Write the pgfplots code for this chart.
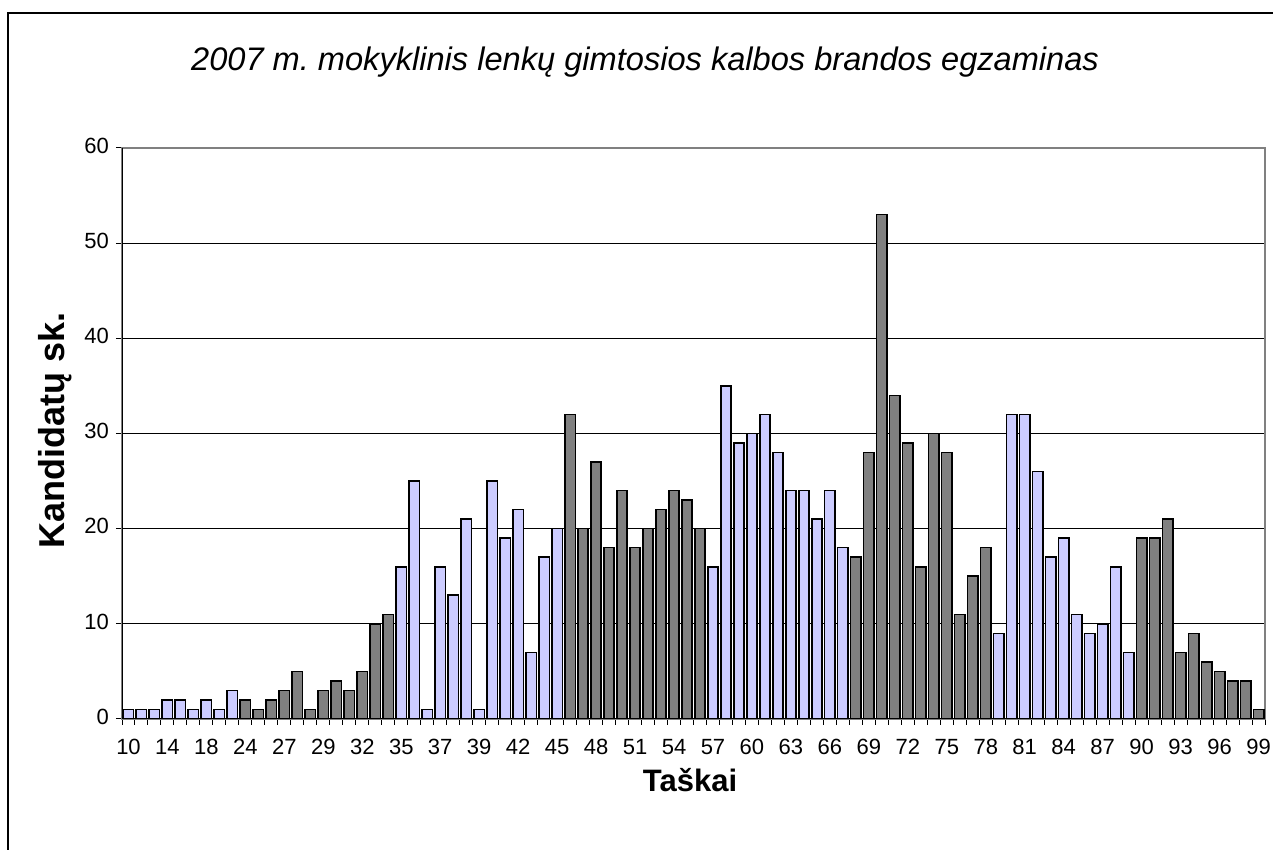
\documentclass[border=0pt]{standalone}
\usepackage{fontspec}
\setmainfont{Liberation Sans}
\usepackage{pgfplots}
\pgfplotsset{compat=1.18}
\definecolor{lav}{HTML}{CCCCFF}
\definecolor{drk}{HTML}{808080}
\frenchspacing
\begin{document}
\begin{tikzpicture}
\begin{axis}[
  at={(0,0)}, anchor=south west,
  width=571.5pt, height=285.5pt, scale only axis,
  xmin=-0.5, xmax=87.5, ymin=0, ymax=60,
  ybar, bar width=0.8, bar shift=0pt,
  axis line style={gray, line width=0.6pt},
  ymajorgrids, grid style={black, line width=0.5pt},
  ytick={0,10,...,60},
  xtick={-0.5,0.5,...,87.5}, xticklabels={},
  extra x ticks={0,3,...,87},
  extra x tick labels={10,14,18,24,27,29,32,35,37,39,42,45,48,51,54,57,60,63,66,69,72,75,78,81,84,87,90,93,96,99},
  extra x tick style={major tick length=0pt, tick label style={yshift=-5pt}},
  typeset ticklabels with strut,
  xtick pos=bottom, ytick pos=left,
  tick align=outside, major tick length=3pt,
  tick style={black, line width=0.5pt},
  /pgf/number format/assume math mode=true,
  tick label style={font=\fontsize{11}{13}\selectfont},
  title={\fontsize{16.3}{19}\selectfont\itshape 2007 m. mokyklinis lenkų gimtosios kalbos brandos egzaminas},
  every axis title/.style={at={(axis description cs:0.4576,1.1506)}, anchor=center},
  xlabel={\fontsize{15.5}{18}\selectfont\bfseries Taškai},
  xlabel style={at={(axis description cs:0.497,-0.1068)}, anchor=center},
  ylabel={\fontsize{18}{21}\selectfont\bfseries Kandidatų sk.},
  ylabel style={at={(axis description cs:-0.0586,0.506)}, anchor=center},
]
\addplot[fill=lav, draw=black, line width=0.8pt] coordinates {
(0,1)(1,1)(2,1)(3,2)(4,2)(5,1)(6,2)(7,1)(8,3)
(21,16)(22,25)(23,1)(24,16)(25,13)(26,21)(27,1)(28,25)(29,19)(30,22)(31,7)(32,17)(33,20)
(45,16)(46,35)(47,29)(48,30)(49,32)(50,28)(51,24)(52,24)(53,21)(54,24)(55,18)
(67,9)(68,32)(69,32)(70,26)(71,17)(72,19)(73,11)(74,9)(75,10)(76,16)(77,7)
};
\addplot[fill=drk, draw=black, line width=0.8pt] coordinates {
(9,2)(10,1)(11,2)(12,3)(13,5)(14,1)(15,3)(16,4)(17,3)(18,5)(19,10)(20,11)
(34,32)(35,20)(36,27)(37,18)(38,24)(39,18)(40,20)(41,22)(42,24)(43,23)(44,20)
(56,17)(57,28)(58,53)(59,34)(60,29)(61,16)(62,30)(63,28)(64,11)(65,15)(66,18)
(78,19)(79,19)(80,21)(81,7)(82,9)(83,6)(84,5)(85,4)(86,4)(87,1)
};
\draw[black, line width=0.6pt] (rel axis cs:0,1) -- (rel axis cs:0,0) -- (rel axis cs:1,0);
\end{axis}
\draw[black, line width=1pt] (-57pt,-70pt) -- (-57pt,353pt) -- (580pt,353pt);
\pgfresetboundingbox
\path[use as bounding box] (-61pt,-65.5pt) rectangle (575.5pt,359.5pt);
\end{tikzpicture}
\end{document}
